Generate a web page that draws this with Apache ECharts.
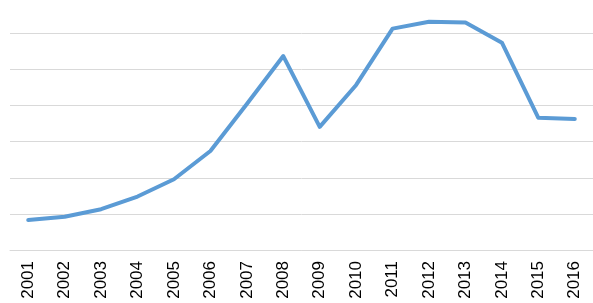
<!DOCTYPE html>
<html><head><meta charset="utf-8">
<script src="https://cdn.jsdelivr.net/npm/echarts@6/dist/echarts.min.js"></script>
<style>html,body{margin:0;padding:0;background:#fff}#c{width:593px;height:303px}</style>
</head><body><div id="c"></div>
<script>
const years = ['2001','2002','2003','2004','2005','2006','2007','2008','2009','2010','2011','2012','2013','2014','2015','2016'];
const values = [0.83, 0.92, 1.13, 1.48, 1.96, 2.74, 4.04, 5.37, 3.41, 4.57, 6.13, 6.32, 6.30, 5.74, 3.66, 3.63];
const chart = echarts.init(document.getElementById('c'));
chart.setOption({
  animation: false,
  grid: {left: 10, right: 0, top: 33.3, bottom: 53},
  xAxis: {
    type: 'category', data: years, boundaryGap: true,
    axisLine: {lineStyle: {color: '#d9d9d9', width: 1}},
    axisTick: {show: false},
    axisLabel: {rotate: 90, margin: 11, color: '#000', fontSize: 17, fontFamily: 'Liberation Sans'}
  },
  yAxis: {
    type: 'value', min: 0, max: 6, interval: 1,
    axisLabel: {show: false}, axisLine: {show: false}, axisTick: {show: false},
    splitLine: {lineStyle: {color: '#d9d9d9', width: 1}}
  },
  series: [{
    type: 'line', data: values, symbol: 'none', clip: false,
    lineStyle: {color: '#5b9bd5', width: 4, cap: 'round', join: 'round'}
  }]
});
</script></body></html>
